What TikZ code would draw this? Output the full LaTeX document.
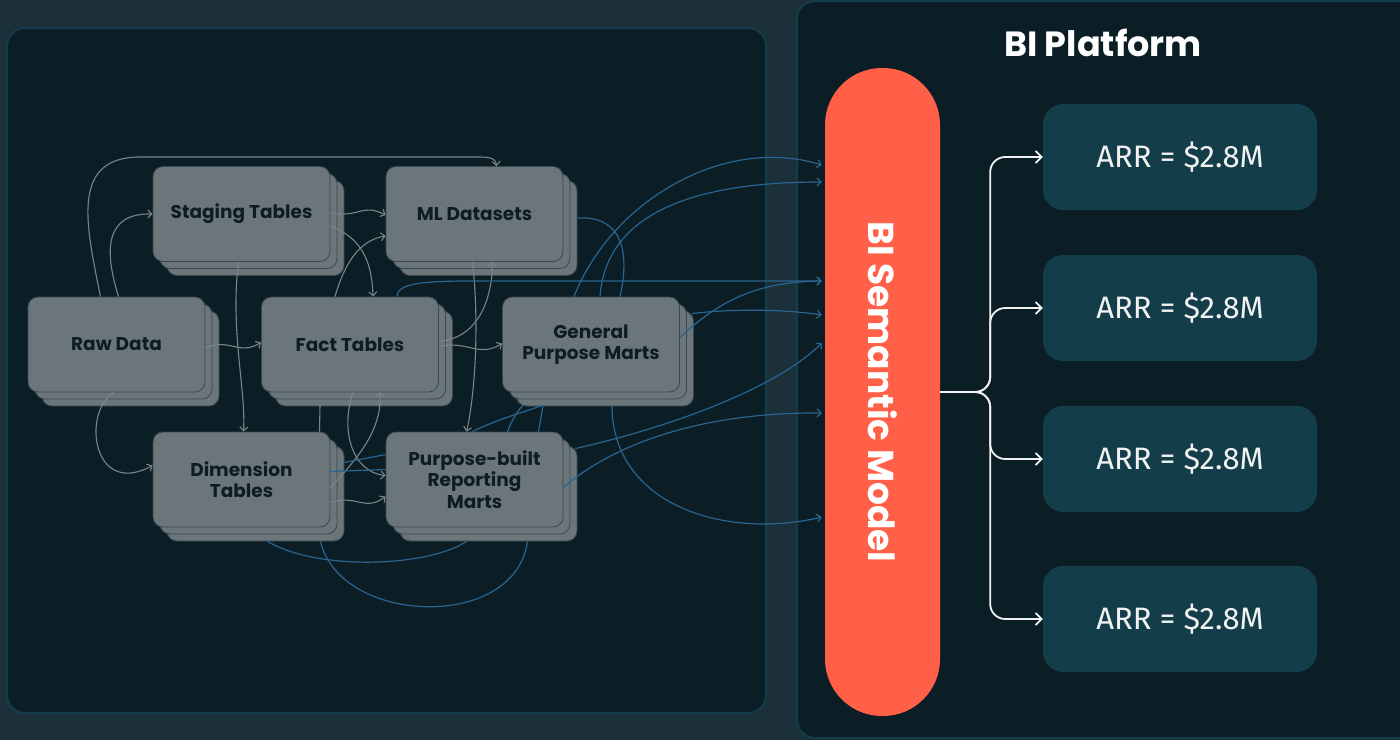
\documentclass[tikz,border=0pt]{standalone}
\usepackage{fontspec}
\setmainfont{Fira Sans}
\newfontfamily\poppins{Poppins}
\usetikzlibrary{arrows.meta,calc,shadows}
\definecolor{pagebg}{HTML}{1C3039}
\definecolor{panelbg}{HTML}{0C1E25}
\definecolor{panelline}{HTML}{133D4B}
\definecolor{cardgray}{HTML}{6A7679}
\definecolor{cardline}{HTML}{3A484D}
\definecolor{cardtext}{HTML}{0F1D23}
\definecolor{flowgray}{HTML}{7A8588}
\definecolor{flowblue}{HTML}{2A6491}
\definecolor{bsmred}{HTML}{FF6047}
\definecolor{arrfill}{HTML}{143D4A}
\definecolor{arrtext}{HTML}{F2F2F2}

\begin{document}
\begin{tikzpicture}[x=1pt,y=-1pt,
  panel/.style={fill=panelbg,draw=panelline,line width=2pt,rounded corners=18pt},
  card/.style={rectangle,rounded corners=10pt,fill=cardgray,draw=cardline,line width=0.8pt,
    minimum width=177pt,minimum height=95pt,align=center,text=cardtext,
    font=\poppins\bfseries\fontsize{18.5}{21.5}\selectfont,
    copy shadow={shadow xshift=14pt,shadow yshift=-14pt,fill=cardgray,draw=cardline},
    copy shadow={shadow xshift=7pt,shadow yshift=-7pt,fill=cardgray,draw=cardline}},
  pill/.style={rectangle,rounded corners=57pt,fill=bsmred,minimum width=115pt,
    minimum height=648pt,inner sep=0pt,text=white,
    font=\poppins\bfseries\fontsize{36}{40}\selectfont},
  arrbox/.style={rectangle,rounded corners=20pt,fill=arrfill,minimum width=274pt,
    minimum height=106pt,text=arrtext,font=\fontsize{31}{36}\selectfont},
  flow/.style={draw=flowgray,line width=1.1pt,-{Straight Barb[length=4pt,width=8pt]}},
  flowline/.style={draw=flowgray,line width=1.1pt},
  feed/.style={draw=flowblue,line width=1.2pt,-{Straight Barb[length=4pt,width=8pt]}},
  feedline/.style={draw=flowblue,line width=1.2pt},
  branch/.style={draw=arrtext,line width=1.8pt,rounded corners=15pt,
    -{Straight Barb[length=6pt,width=12pt]}}]

\useasboundingbox (0,0) rectangle (1400,740);
\fill[pagebg] (0,0) rectangle (1400,740);

%panels
\draw[panel] (7,28) rectangle (766,713);
\draw[panel] (797,1) rectangle (1420,738);

%pipeline
\node[card] (staging) at (241.5,214) {Staging Tables};
\node[card] (ml) at (474.5,214) {ML Datasets};
\node[card] (raw) at (116.5,344.5) {Raw Data};
\node[card] (fact) at (350,344.5) {Fact Tables};
\node[card] (gp) at (591,344.5) {General\\Purpose Marts};
\node[card] (dim) at (241.5,479.5) {Dimension\\Tables};
\node[card] (pb) at (474.5,479.5) {Purpose-built\\Reporting\\Marts};

\draw[flow] ($(raw.north)+(-16,0)$) .. controls (86,225) and (70,157) .. (140,157) -- (480,157) .. controls (493,157) and (496,160) .. ($(ml.north)+(22,0)$);
\draw[flow] ($(raw.north)+(2,0)$) .. controls (104,250) and (105,213) .. (staging.west);
\draw[flow] ($(raw.east)+(0,3)$) .. controls (232,338) and (238,356) .. ($(fact.west)+(0,-2)$);
\draw[flow] ($(raw.south)+(-3,0)$) .. controls (82,412) and (92,498) .. ($(dim.west)+(0,-14)$);
\draw[flow] ($(staging.east)+(0,-1)$) .. controls (360,218) and (362,203) .. ($(ml.west)+(0,1)$);
\draw[flow] ($(staging.east)+(0,12)$) .. controls (362,238) and (372,262) .. ($(fact.north)+(23,0)$);
\draw[flow] ($(staging.south)+(-3,0)$) .. controls (230,330) and (246,390) .. ($(dim.north)+(2,0)$);
\draw[flow] ($(fact.north)+(-15,0)$) .. controls (345,262) and (360,240) .. ($(ml.west)+(0,22)$);
\draw[flow] ($(fact.east)+(0,-3)$) .. controls (478,338) and (492,300) .. ($(ml.south)+(18,0)$);
\draw[flow] ($(fact.east)+(0,2)$) .. controls (468,340) and (478,358) .. ($(gp.west)+(0,-1)$);
\draw[flow] ($(fact.south)+(3,0)$) .. controls (340,430) and (352,472) .. ($(pb.west)+(0,-4)$);
\draw[flowline] ($(fact.south)+(-30,13)$) -- ($(dim.north)+(78,0)$);
\draw[flow] ($(ml.south)+(-2,0)$) .. controls (480,330) and (474,400) .. ($(pb.north)+(-8,0)$);
\draw[flow] ($(dim.east)+(0,8)$) .. controls (358,458) and (382,430) .. ($(fact.south)+(30,0)$);
\draw[flow] ($(dim.east)+(0,23)$) .. controls (356,494) and (365,512) .. ($(pb.west)+(0,17)$);

%semantic model
\node[pill] (bsm) at (882.5,392) {\rotatebox{-90}{BI Semantic Model}};

\draw[feed] ($(gp.north)+(-17,0)$) .. controls (612,200) and (725,135) .. ($(bsm.west)+(-3,-227)$);
\draw[feed] ($(gp.north)+(9,0)$) .. controls (606,215) and (690,182) .. ($(bsm.west)+(-3,-210)$);
\draw[feed] ($(fact.north)+(47,0)$) .. controls (397,284) and (420,281) .. (470,281) -- ($(bsm.west)+(-3,-111)$);
\draw[feed] ($(gp.east)+(12,-31)$) .. controls (740,308) and (790,310) .. ($(bsm.west)+(-3,-77)$);
\draw[feed] ($(gp.east)+(0,-7)$) .. controls (722,298) and (760,282) .. ($(bsm.west)+(-3,-111)$);
\draw[feed] ($(gp.south)+(21,13)$) .. controls (612,505) and (725,540) .. ($(bsm.west)+(-3,125)$);
\draw[feed] ($(pb.east)+(12,-31)$) .. controls (680,425) and (780,385) .. ($(bsm.west)+(-3,-49)$);
\draw[feed] ($(pb.east)+(0,8)$) .. controls (612,445) and (700,412) .. ($(bsm.west)+(-3,21)$);
\draw[feedline] ($(ml.east)+(14,4)$) .. controls (628,215) and (628,262) .. ($(gp.north)+(29,0)$);
\draw[feedline] ($(dim.east)+(14,-17)$) -- ($(pb.west)+(0,-25)$);
\draw[feedline] ($(dim.east)+(0,-8)$) -- ($(pb.west)+(0,-10)$);
\draw[feedline] ($(pb.north)+(-2,0)$) .. controls (500,418) and (525,412) .. ($(gp.south)+(-49,13)$);
\draw[feedline] ($(pb.north)+(33,0)$) .. controls (512,420) and (518,410) .. ($(gp.south)+(-68,13)$);
\draw[feedline] ($(pb.north)+(64,0)$) -- ($(gp.south)+(-48,13)$);
\draw[feedline] ($(dim.south)+(26,14)$) .. controls (320,572) and (430,566) .. ($(pb.south)+(-8,14)$);
\draw[feedline] ($(dim.south)+(79,14)$) .. controls (340,625) and (515,632) .. ($(pb.south)+(53,14)$);

%platform
\node[text=white,font=\poppins\bfseries\fontsize{35}{40}\selectfont] (title) at (1103,43) {BI Platform};
\node[arrbox] (arr1) at (1180,157) {ARR = \$2.8M};
\node[arrbox] (arr2) at (1180,308) {ARR = \$2.8M};
\node[arrbox] (arr3) at (1180,459) {ARR = \$2.8M};
\node[arrbox] (arr4) at (1180,619) {ARR = \$2.8M};

\draw[branch] (bsm.east) -- ++(50,0) |- (arr1.west);
\draw[branch] (bsm.east) -- ++(50,0) |- (arr2.west);
\draw[branch] (bsm.east) -- ++(50,0) |- (arr3.west);
\draw[branch] (bsm.east) -- ++(50,0) |- (arr4.west);
\end{tikzpicture}
\end{document}
